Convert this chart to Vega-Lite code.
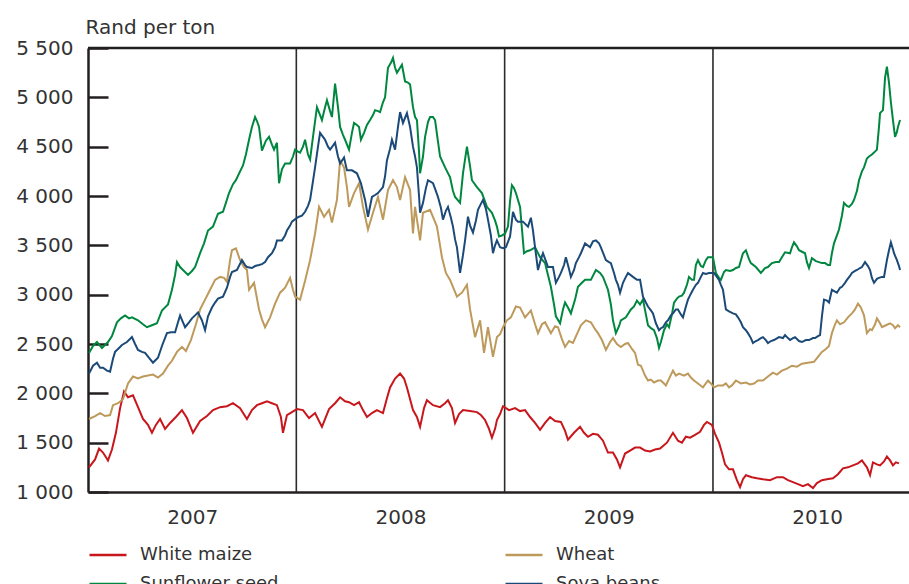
{
  "$schema": "https://vega.github.io/schema/vega-lite/v6.json",
  "width": 821,
  "height": 444,
  "autosize": {"type": "none"},
  "padding": {"left": 88, "top": 48, "right": 0, "bottom": 92},
  "background": "white",
  "config": {
    "view": {"stroke": null},
    "font": "DejaVu Sans",
    "legend": {
      "orient": "none", "legendX": 0, "legendY": 487, "columns": 2, "columnPadding": 221, "rowPadding": -1,
      "symbolType": "stroke", "symbolSize": 1369, "symbolStrokeWidth": 2.5,
      "labelFontSize": 18, "labelFont": "DejaVu Sans", "labelColor": "#333333", "labelOffset": 12, "labelLimit": 300
    }
  },
  "datasets": {
    "maize": [
      {"year":2007.005,"price":1250},{"year":2007.034,"price":1330},{"year":2007.053,"price":1440},{"year":2007.072,"price":1400},{"year":2007.096,"price":1320},{"year":2007.115,"price":1430},{"year":2007.134,"price":1600},{"year":2007.154,"price":1850},{"year":2007.173,"price":2020},{"year":2007.192,"price":1960},{"year":2007.216,"price":1980},{"year":2007.240,"price":1860},{"year":2007.264,"price":1740},{"year":2007.288,"price":1680},{"year":2007.307,"price":1600},{"year":2007.326,"price":1680},{"year":2007.346,"price":1740},{"year":2007.370,"price":1640},{"year":2007.394,"price":1700},{"year":2007.422,"price":1760},{"year":2007.451,"price":1830},{"year":2007.475,"price":1750},{"year":2007.504,"price":1600},{"year":2007.538,"price":1720},{"year":2007.571,"price":1770},{"year":2007.600,"price":1830},{"year":2007.634,"price":1860},{"year":2007.667,"price":1870},{"year":2007.696,"price":1900},{"year":2007.730,"price":1850},{"year":2007.763,"price":1740},{"year":2007.787,"price":1830},{"year":2007.811,"price":1880},{"year":2007.835,"price":1900},{"year":2007.859,"price":1920},{"year":2007.883,"price":1900},{"year":2007.907,"price":1880},{"year":2007.926,"price":1760},{"year":2007.936,"price":1600},{"year":2007.955,"price":1780},{"year":2007.979,"price":1810},{"year":2008.003,"price":1840},{"year":2008.032,"price":1830},{"year":2008.061,"price":1750},{"year":2008.090,"price":1800},{"year":2008.123,"price":1660},{"year":2008.157,"price":1840},{"year":2008.186,"price":1900},{"year":2008.210,"price":1960},{"year":2008.234,"price":1920},{"year":2008.253,"price":1910},{"year":2008.277,"price":1880},{"year":2008.301,"price":1910},{"year":2008.320,"price":1830},{"year":2008.339,"price":1760},{"year":2008.363,"price":1800},{"year":2008.387,"price":1830},{"year":2008.416,"price":1800},{"year":2008.435,"price":1950},{"year":2008.450,"price":2060},{"year":2008.474,"price":2150},{"year":2008.498,"price":2200},{"year":2008.517,"price":2150},{"year":2008.531,"price":2060},{"year":2008.560,"price":1830},{"year":2008.579,"price":1760},{"year":2008.594,"price":1660},{"year":2008.613,"price":1850},{"year":2008.627,"price":1930},{"year":2008.656,"price":1880},{"year":2008.690,"price":1860},{"year":2008.714,"price":1900},{"year":2008.728,"price":1930},{"year":2008.747,"price":1850},{"year":2008.762,"price":1700},{"year":2008.781,"price":1790},{"year":2008.800,"price":1830},{"year":2008.834,"price":1820},{"year":2008.867,"price":1810},{"year":2008.886,"price":1780},{"year":2008.906,"price":1730},{"year":2008.925,"price":1640},{"year":2008.939,"price":1550},{"year":2008.954,"price":1640},{"year":2008.963,"price":1730},{"year":2008.978,"price":1790},{"year":2008.992,"price":1870},{"year":2009.021,"price":1830},{"year":2009.050,"price":1850},{"year":2009.074,"price":1820},{"year":2009.098,"price":1830},{"year":2009.122,"price":1760},{"year":2009.146,"price":1700},{"year":2009.170,"price":1630},{"year":2009.194,"price":1700},{"year":2009.218,"price":1760},{"year":2009.242,"price":1720},{"year":2009.270,"price":1710},{"year":2009.290,"price":1620},{"year":2009.304,"price":1530},{"year":2009.333,"price":1600},{"year":2009.362,"price":1660},{"year":2009.381,"price":1600},{"year":2009.400,"price":1560},{"year":2009.424,"price":1590},{"year":2009.448,"price":1580},{"year":2009.472,"price":1520},{"year":2009.496,"price":1400},{"year":2009.520,"price":1400},{"year":2009.539,"price":1330},{"year":2009.554,"price":1250},{"year":2009.578,"price":1390},{"year":2009.602,"price":1420},{"year":2009.626,"price":1450},{"year":2009.650,"price":1450},{"year":2009.674,"price":1420},{"year":2009.698,"price":1410},{"year":2009.722,"price":1430},{"year":2009.746,"price":1440},{"year":2009.779,"price":1500},{"year":2009.808,"price":1600},{"year":2009.832,"price":1520},{"year":2009.851,"price":1500},{"year":2009.870,"price":1560},{"year":2009.890,"price":1550},{"year":2009.914,"price":1580},{"year":2009.938,"price":1610},{"year":2009.957,"price":1680},{"year":2009.971,"price":1710},{"year":2009.995,"price":1680},{"year":2010.010,"price":1590},{"year":2010.029,"price":1500},{"year":2010.043,"price":1400},{"year":2010.058,"price":1280},{"year":2010.077,"price":1230},{"year":2010.096,"price":1230},{"year":2010.115,"price":1120},{"year":2010.130,"price":1050},{"year":2010.144,"price":1130},{"year":2010.158,"price":1170},{"year":2010.187,"price":1150},{"year":2010.211,"price":1140},{"year":2010.240,"price":1130},{"year":2010.274,"price":1120},{"year":2010.307,"price":1150},{"year":2010.336,"price":1150},{"year":2010.360,"price":1120},{"year":2010.384,"price":1100},{"year":2010.408,"price":1080},{"year":2010.432,"price":1060},{"year":2010.456,"price":1080},{"year":2010.480,"price":1040},{"year":2010.499,"price":1090},{"year":2010.523,"price":1120},{"year":2010.547,"price":1130},{"year":2010.576,"price":1140},{"year":2010.600,"price":1180},{"year":2010.624,"price":1240},{"year":2010.648,"price":1250},{"year":2010.672,"price":1270},{"year":2010.696,"price":1290},{"year":2010.715,"price":1320},{"year":2010.739,"price":1250},{"year":2010.754,"price":1170},{"year":2010.768,"price":1300},{"year":2010.787,"price":1280},{"year":2010.802,"price":1270},{"year":2010.821,"price":1310},{"year":2010.835,"price":1360},{"year":2010.850,"price":1320},{"year":2010.864,"price":1270},{"year":2010.878,"price":1300},{"year":2010.893,"price":1290}
    ],
    "wheat": [
      {"year":2007.005,"price":1740},{"year":2007.034,"price":1770},{"year":2007.058,"price":1800},{"year":2007.082,"price":1770},{"year":2007.106,"price":1780},{"year":2007.120,"price":1880},{"year":2007.144,"price":1900},{"year":2007.168,"price":1940},{"year":2007.192,"price":2100},{"year":2007.216,"price":2170},{"year":2007.240,"price":2150},{"year":2007.264,"price":2170},{"year":2007.288,"price":2180},{"year":2007.312,"price":2190},{"year":2007.336,"price":2160},{"year":2007.360,"price":2200},{"year":2007.384,"price":2280},{"year":2007.403,"price":2330},{"year":2007.427,"price":2420},{"year":2007.451,"price":2470},{"year":2007.470,"price":2430},{"year":2007.494,"price":2540},{"year":2007.518,"price":2700},{"year":2007.538,"price":2850},{"year":2007.562,"price":2950},{"year":2007.586,"price":3050},{"year":2007.610,"price":3150},{"year":2007.634,"price":3180},{"year":2007.653,"price":3170},{"year":2007.667,"price":3130},{"year":2007.682,"price":3350},{"year":2007.691,"price":3450},{"year":2007.710,"price":3470},{"year":2007.730,"price":3350},{"year":2007.749,"price":3280},{"year":2007.763,"price":3250},{"year":2007.773,"price":3050},{"year":2007.797,"price":3120},{"year":2007.821,"price":2850},{"year":2007.835,"price":2750},{"year":2007.850,"price":2670},{"year":2007.874,"price":2770},{"year":2007.898,"price":2910},{"year":2007.922,"price":3020},{"year":2007.946,"price":3070},{"year":2007.970,"price":3170},{"year":2007.984,"price":3050},{"year":2007.994,"price":2980},{"year":2008.018,"price":2950},{"year":2008.042,"price":3140},{"year":2008.066,"price":3350},{"year":2008.090,"price":3620},{"year":2008.109,"price":3890},{"year":2008.133,"price":3790},{"year":2008.157,"price":3860},{"year":2008.171,"price":3730},{"year":2008.195,"price":3960},{"year":2008.210,"price":4360},{"year":2008.229,"price":4290},{"year":2008.243,"price":4090},{"year":2008.253,"price":3890},{"year":2008.277,"price":4030},{"year":2008.301,"price":4130},{"year":2008.320,"price":3890},{"year":2008.344,"price":3660},{"year":2008.368,"price":3830},{"year":2008.392,"price":3990},{"year":2008.416,"price":3760},{"year":2008.440,"price":4060},{"year":2008.464,"price":4160},{"year":2008.483,"price":4090},{"year":2008.498,"price":3960},{"year":2008.522,"price":4190},{"year":2008.546,"price":4060},{"year":2008.560,"price":3620},{"year":2008.570,"price":3890},{"year":2008.594,"price":3550},{"year":2008.608,"price":3830},{"year":2008.642,"price":3860},{"year":2008.675,"price":3690},{"year":2008.699,"price":3380},{"year":2008.718,"price":3220},{"year":2008.738,"price":3150},{"year":2008.771,"price":2980},{"year":2008.795,"price":3020},{"year":2008.819,"price":3100},{"year":2008.834,"price":2850},{"year":2008.858,"price":2570},{"year":2008.882,"price":2740},{"year":2008.901,"price":2410},{"year":2008.920,"price":2670},{"year":2008.944,"price":2370},{"year":2008.963,"price":2570},{"year":2008.978,"price":2600},{"year":2008.992,"price":2670},{"year":2009.011,"price":2740},{"year":2009.030,"price":2770},{"year":2009.054,"price":2880},{"year":2009.074,"price":2870},{"year":2009.098,"price":2770},{"year":2009.126,"price":2840},{"year":2009.146,"price":2700},{"year":2009.160,"price":2610},{"year":2009.179,"price":2700},{"year":2009.194,"price":2720},{"year":2009.222,"price":2610},{"year":2009.242,"price":2680},{"year":2009.256,"price":2670},{"year":2009.275,"price":2550},{"year":2009.290,"price":2470},{"year":2009.309,"price":2530},{"year":2009.328,"price":2510},{"year":2009.347,"price":2600},{"year":2009.366,"price":2690},{"year":2009.390,"price":2740},{"year":2009.414,"price":2720},{"year":2009.434,"price":2650},{"year":2009.448,"price":2610},{"year":2009.467,"price":2540},{"year":2009.486,"price":2440},{"year":2009.506,"price":2520},{"year":2009.520,"price":2560},{"year":2009.539,"price":2500},{"year":2009.558,"price":2470},{"year":2009.578,"price":2500},{"year":2009.592,"price":2510},{"year":2009.611,"price":2450},{"year":2009.626,"price":2410},{"year":2009.640,"price":2290},{"year":2009.654,"price":2280},{"year":2009.674,"price":2180},{"year":2009.688,"price":2130},{"year":2009.702,"price":2140},{"year":2009.717,"price":2110},{"year":2009.736,"price":2130},{"year":2009.750,"price":2130},{"year":2009.765,"price":2100},{"year":2009.774,"price":2080},{"year":2009.794,"price":2170},{"year":2009.808,"price":2230},{"year":2009.822,"price":2180},{"year":2009.837,"price":2200},{"year":2009.861,"price":2180},{"year":2009.880,"price":2200},{"year":2009.894,"price":2160},{"year":2009.909,"price":2130},{"year":2009.928,"price":2100},{"year":2009.952,"price":2060},{"year":2009.976,"price":2130},{"year":2009.990,"price":2100},{"year":2010.005,"price":2060},{"year":2010.024,"price":2080},{"year":2010.048,"price":2080},{"year":2010.062,"price":2100},{"year":2010.077,"price":2060},{"year":2010.091,"price":2080},{"year":2010.110,"price":2130},{"year":2010.134,"price":2100},{"year":2010.158,"price":2110},{"year":2010.178,"price":2090},{"year":2010.197,"price":2100},{"year":2010.216,"price":2130},{"year":2010.240,"price":2130},{"year":2010.264,"price":2170},{"year":2010.288,"price":2210},{"year":2010.307,"price":2190},{"year":2010.331,"price":2230},{"year":2010.355,"price":2250},{"year":2010.379,"price":2280},{"year":2010.403,"price":2270},{"year":2010.427,"price":2300},{"year":2010.456,"price":2310},{"year":2010.485,"price":2320},{"year":2010.504,"price":2370},{"year":2010.523,"price":2420},{"year":2010.542,"price":2450},{"year":2010.557,"price":2480},{"year":2010.571,"price":2610},{"year":2010.586,"price":2700},{"year":2010.595,"price":2740},{"year":2010.610,"price":2700},{"year":2010.629,"price":2720},{"year":2010.648,"price":2770},{"year":2010.667,"price":2810},{"year":2010.682,"price":2850},{"year":2010.696,"price":2910},{"year":2010.710,"price":2870},{"year":2010.725,"price":2790},{"year":2010.739,"price":2610},{"year":2010.754,"price":2650},{"year":2010.763,"price":2640},{"year":2010.778,"price":2700},{"year":2010.787,"price":2760},{"year":2010.802,"price":2710},{"year":2010.811,"price":2670},{"year":2010.830,"price":2690},{"year":2010.850,"price":2710},{"year":2010.864,"price":2690},{"year":2010.874,"price":2660},{"year":2010.888,"price":2690},{"year":2010.898,"price":2670}
    ],
    "sunflower": [
      {"year":2007.005,"price":2410},{"year":2007.024,"price":2480},{"year":2007.043,"price":2520},{"year":2007.067,"price":2460},{"year":2007.096,"price":2520},{"year":2007.115,"price":2580},{"year":2007.139,"price":2720},{"year":2007.158,"price":2760},{"year":2007.178,"price":2790},{"year":2007.197,"price":2760},{"year":2007.211,"price":2770},{"year":2007.240,"price":2740},{"year":2007.264,"price":2700},{"year":2007.283,"price":2670},{"year":2007.307,"price":2690},{"year":2007.331,"price":2710},{"year":2007.355,"price":2840},{"year":2007.384,"price":2900},{"year":2007.403,"price":3050},{"year":2007.418,"price":3200},{"year":2007.427,"price":3330},{"year":2007.442,"price":3280},{"year":2007.456,"price":3250},{"year":2007.480,"price":3200},{"year":2007.499,"price":3240},{"year":2007.514,"price":3280},{"year":2007.538,"price":3420},{"year":2007.557,"price":3520},{"year":2007.576,"price":3650},{"year":2007.600,"price":3690},{"year":2007.624,"price":3820},{"year":2007.648,"price":3840},{"year":2007.662,"price":3930},{"year":2007.677,"price":4030},{"year":2007.696,"price":4120},{"year":2007.710,"price":4160},{"year":2007.730,"price":4250},{"year":2007.744,"price":4310},{"year":2007.758,"price":4420},{"year":2007.773,"price":4570},{"year":2007.787,"price":4700},{"year":2007.802,"price":4800},{"year":2007.811,"price":4760},{"year":2007.821,"price":4700},{"year":2007.835,"price":4460},{"year":2007.854,"price":4560},{"year":2007.869,"price":4600},{"year":2007.883,"price":4520},{"year":2007.893,"price":4470},{"year":2007.907,"price":4540},{"year":2007.917,"price":4130},{"year":2007.931,"price":4270},{"year":2007.946,"price":4330},{"year":2007.970,"price":4330},{"year":2007.984,"price":4400},{"year":2007.994,"price":4470},{"year":2008.008,"price":4450},{"year":2008.018,"price":4440},{"year":2008.032,"price":4500},{"year":2008.042,"price":4570},{"year":2008.056,"price":4420},{"year":2008.066,"price":4370},{"year":2008.080,"price":4600},{"year":2008.099,"price":4900},{"year":2008.114,"price":4820},{"year":2008.123,"price":4770},{"year":2008.138,"price":4900},{"year":2008.147,"price":4970},{"year":2008.162,"price":4860},{"year":2008.171,"price":4800},{"year":2008.186,"price":5140},{"year":2008.200,"price":4900},{"year":2008.210,"price":4700},{"year":2008.224,"price":4620},{"year":2008.234,"price":4570},{"year":2008.253,"price":4470},{"year":2008.267,"price":4640},{"year":2008.277,"price":4740},{"year":2008.291,"price":4720},{"year":2008.301,"price":4700},{"year":2008.310,"price":4570},{"year":2008.325,"price":4640},{"year":2008.339,"price":4720},{"year":2008.354,"price":4770},{"year":2008.368,"price":4820},{"year":2008.378,"price":4870},{"year":2008.392,"price":4860},{"year":2008.402,"price":4850},{"year":2008.416,"price":4950},{"year":2008.426,"price":5000},{"year":2008.440,"price":5300},{"year":2008.454,"price":5350},{"year":2008.464,"price":5400},{"year":2008.474,"price":5300},{"year":2008.483,"price":5250},{"year":2008.498,"price":5300},{"year":2008.507,"price":5330},{"year":2008.522,"price":5160},{"year":2008.536,"price":5150},{"year":2008.546,"price":5130},{"year":2008.560,"price":4900},{"year":2008.570,"price":4800},{"year":2008.579,"price":4770},{"year":2008.589,"price":4450},{"year":2008.594,"price":4230},{"year":2008.608,"price":4400},{"year":2008.618,"price":4600},{"year":2008.632,"price":4750},{"year":2008.642,"price":4800},{"year":2008.656,"price":4800},{"year":2008.666,"price":4770},{"year":2008.680,"price":4550},{"year":2008.690,"price":4400},{"year":2008.714,"price":4290},{"year":2008.738,"price":4190},{"year":2008.752,"price":4050},{"year":2008.762,"price":3990},{"year":2008.786,"price":3930},{"year":2008.800,"price":4230},{"year":2008.819,"price":4500},{"year":2008.834,"price":4300},{"year":2008.843,"price":4160},{"year":2008.867,"price":4090},{"year":2008.891,"price":4030},{"year":2008.915,"price":3890},{"year":2008.939,"price":3830},{"year":2008.954,"price":3750},{"year":2008.963,"price":3690},{"year":2008.973,"price":3590},{"year":2008.987,"price":3600},{"year":2009.002,"price":3620},{"year":2009.016,"price":3690},{"year":2009.026,"price":3950},{"year":2009.035,"price":4110},{"year":2009.045,"price":4080},{"year":2009.054,"price":4030},{"year":2009.074,"price":3890},{"year":2009.093,"price":3420},{"year":2009.107,"price":3440},{"year":2009.122,"price":3450},{"year":2009.146,"price":3480},{"year":2009.170,"price":3380},{"year":2009.194,"price":3320},{"year":2009.208,"price":3200},{"year":2009.222,"price":3080},{"year":2009.237,"price":2900},{"year":2009.246,"price":2780},{"year":2009.266,"price":2710},{"year":2009.280,"price":2850},{"year":2009.290,"price":2920},{"year":2009.304,"price":2870},{"year":2009.318,"price":2810},{"year":2009.338,"price":2950},{"year":2009.352,"price":3080},{"year":2009.371,"price":3120},{"year":2009.386,"price":3150},{"year":2009.414,"price":3150},{"year":2009.438,"price":3250},{"year":2009.458,"price":3220},{"year":2009.472,"price":3180},{"year":2009.496,"price":3050},{"year":2009.510,"price":2900},{"year":2009.520,"price":2740},{"year":2009.534,"price":2610},{"year":2009.549,"price":2680},{"year":2009.558,"price":2740},{"year":2009.582,"price":2770},{"year":2009.606,"price":2850},{"year":2009.621,"price":2880},{"year":2009.635,"price":2940},{"year":2009.650,"price":2900},{"year":2009.664,"price":2950},{"year":2009.678,"price":2800},{"year":2009.688,"price":2690},{"year":2009.702,"price":2660},{"year":2009.717,"price":2640},{"year":2009.731,"price":2560},{"year":2009.741,"price":2460},{"year":2009.750,"price":2520},{"year":2009.765,"price":2640},{"year":2009.779,"price":2700},{"year":2009.789,"price":2670},{"year":2009.803,"price":2800},{"year":2009.813,"price":2920},{"year":2009.827,"price":2960},{"year":2009.837,"price":2980},{"year":2009.851,"price":2990},{"year":2009.861,"price":3020},{"year":2009.875,"price":3100},{"year":2009.885,"price":3180},{"year":2009.899,"price":3150},{"year":2009.909,"price":3150},{"year":2009.918,"price":3300},{"year":2009.928,"price":3350},{"year":2009.942,"price":3290},{"year":2009.952,"price":3280},{"year":2009.966,"price":3350},{"year":2009.976,"price":3380},{"year":2009.990,"price":3380},{"year":2010.000,"price":3380},{"year":2010.014,"price":3220},{"year":2010.029,"price":3170},{"year":2010.038,"price":3150},{"year":2010.053,"price":3230},{"year":2010.062,"price":3250},{"year":2010.082,"price":3240},{"year":2010.096,"price":3250},{"year":2010.110,"price":3270},{"year":2010.125,"price":3280},{"year":2010.144,"price":3420},{"year":2010.158,"price":3450},{"year":2010.173,"price":3360},{"year":2010.182,"price":3320},{"year":2010.206,"price":3280},{"year":2010.230,"price":3220},{"year":2010.250,"price":3270},{"year":2010.264,"price":3280},{"year":2010.283,"price":3320},{"year":2010.302,"price":3330},{"year":2010.317,"price":3330},{"year":2010.331,"price":3380},{"year":2010.346,"price":3430},{"year":2010.370,"price":3420},{"year":2010.379,"price":3480},{"year":2010.389,"price":3530},{"year":2010.403,"price":3490},{"year":2010.413,"price":3450},{"year":2010.432,"price":3430},{"year":2010.442,"price":3420},{"year":2010.451,"price":3330},{"year":2010.461,"price":3270},{"year":2010.475,"price":3370},{"year":2010.494,"price":3340},{"year":2010.509,"price":3330},{"year":2010.523,"price":3320},{"year":2010.538,"price":3320},{"year":2010.552,"price":3300},{"year":2010.562,"price":3300},{"year":2010.571,"price":3420},{"year":2010.581,"price":3520},{"year":2010.595,"price":3600},{"year":2010.605,"price":3660},{"year":2010.619,"price":3800},{"year":2010.629,"price":3930},{"year":2010.643,"price":3900},{"year":2010.653,"price":3890},{"year":2010.667,"price":3920},{"year":2010.677,"price":3960},{"year":2010.691,"price":4050},{"year":2010.701,"price":4160},{"year":2010.715,"price":4250},{"year":2010.725,"price":4290},{"year":2010.739,"price":4380},{"year":2010.749,"price":4400},{"year":2010.763,"price":4420},{"year":2010.773,"price":4440},{"year":2010.787,"price":4470},{"year":2010.797,"price":4700},{"year":2010.802,"price":4840},{"year":2010.816,"price":4870},{"year":2010.826,"price":5200},{"year":2010.835,"price":5310},{"year":2010.845,"price":5150},{"year":2010.854,"price":4950},{"year":2010.864,"price":4770},{"year":2010.874,"price":4600},{"year":2010.883,"price":4650},{"year":2010.888,"price":4700},{"year":2010.898,"price":4770}
    ],
    "soya": [
      {"year":2007.005,"price":2200},{"year":2007.024,"price":2280},{"year":2007.043,"price":2310},{"year":2007.058,"price":2260},{"year":2007.072,"price":2260},{"year":2007.091,"price":2230},{"year":2007.106,"price":2220},{"year":2007.120,"price":2350},{"year":2007.130,"price":2420},{"year":2007.149,"price":2460},{"year":2007.163,"price":2490},{"year":2007.187,"price":2520},{"year":2007.211,"price":2570},{"year":2007.226,"price":2500},{"year":2007.240,"price":2440},{"year":2007.259,"price":2420},{"year":2007.274,"price":2410},{"year":2007.293,"price":2360},{"year":2007.312,"price":2310},{"year":2007.326,"price":2340},{"year":2007.336,"price":2360},{"year":2007.355,"price":2480},{"year":2007.379,"price":2610},{"year":2007.398,"price":2620},{"year":2007.418,"price":2620},{"year":2007.432,"price":2720},{"year":2007.442,"price":2790},{"year":2007.456,"price":2720},{"year":2007.466,"price":2670},{"year":2007.485,"price":2720},{"year":2007.499,"price":2760},{"year":2007.514,"price":2790},{"year":2007.528,"price":2820},{"year":2007.547,"price":2740},{"year":2007.562,"price":2640},{"year":2007.576,"price":2780},{"year":2007.595,"price":2870},{"year":2007.610,"price":2920},{"year":2007.624,"price":2960},{"year":2007.648,"price":2980},{"year":2007.667,"price":3070},{"year":2007.682,"price":3180},{"year":2007.691,"price":3230},{"year":2007.715,"price":3250},{"year":2007.739,"price":3350},{"year":2007.754,"price":3300},{"year":2007.763,"price":3280},{"year":2007.787,"price":3270},{"year":2007.802,"price":3290},{"year":2007.821,"price":3300},{"year":2007.835,"price":3310},{"year":2007.850,"price":3330},{"year":2007.864,"price":3380},{"year":2007.883,"price":3420},{"year":2007.898,"price":3480},{"year":2007.907,"price":3550},{"year":2007.931,"price":3550},{"year":2007.946,"price":3600},{"year":2007.955,"price":3650},{"year":2007.970,"price":3700},{"year":2007.979,"price":3740},{"year":2007.998,"price":3770},{"year":2008.013,"price":3790},{"year":2008.027,"price":3800},{"year":2008.042,"price":3840},{"year":2008.056,"price":3900},{"year":2008.066,"price":3960},{"year":2008.080,"price":4150},{"year":2008.090,"price":4290},{"year":2008.104,"price":4500},{"year":2008.114,"price":4640},{"year":2008.128,"price":4600},{"year":2008.138,"price":4570},{"year":2008.152,"price":4500},{"year":2008.162,"price":4470},{"year":2008.176,"price":4510},{"year":2008.186,"price":4540},{"year":2008.200,"price":4400},{"year":2008.210,"price":4330},{"year":2008.229,"price":4390},{"year":2008.243,"price":4260},{"year":2008.267,"price":4260},{"year":2008.291,"price":4230},{"year":2008.310,"price":4130},{"year":2008.330,"price":3960},{"year":2008.344,"price":3790},{"year":2008.363,"price":3990},{"year":2008.378,"price":4010},{"year":2008.392,"price":4030},{"year":2008.416,"price":4090},{"year":2008.426,"price":4200},{"year":2008.435,"price":4360},{"year":2008.450,"price":4480},{"year":2008.459,"price":4570},{"year":2008.474,"price":4470},{"year":2008.488,"price":4700},{"year":2008.498,"price":4850},{"year":2008.512,"price":4740},{"year":2008.531,"price":4840},{"year":2008.546,"price":4700},{"year":2008.560,"price":4500},{"year":2008.570,"price":4400},{"year":2008.579,"price":4290},{"year":2008.589,"price":4000},{"year":2008.594,"price":3830},{"year":2008.608,"price":3930},{"year":2008.622,"price":4080},{"year":2008.632,"price":4160},{"year":2008.656,"price":4130},{"year":2008.670,"price":4050},{"year":2008.680,"price":3990},{"year":2008.694,"price":3880},{"year":2008.704,"price":3760},{"year":2008.718,"price":3850},{"year":2008.728,"price":3890},{"year":2008.742,"price":3780},{"year":2008.752,"price":3690},{"year":2008.762,"price":3560},{"year":2008.771,"price":3480},{"year":2008.786,"price":3220},{"year":2008.800,"price":3400},{"year":2008.810,"price":3550},{"year":2008.824,"price":3790},{"year":2008.834,"price":3700},{"year":2008.848,"price":3630},{"year":2008.862,"price":3750},{"year":2008.872,"price":3860},{"year":2008.886,"price":3920},{"year":2008.896,"price":3960},{"year":2008.910,"price":3870},{"year":2008.920,"price":3760},{"year":2008.934,"price":3600},{"year":2008.944,"price":3420},{"year":2008.954,"price":3500},{"year":2008.963,"price":3550},{"year":2008.978,"price":3480},{"year":2008.992,"price":3470},{"year":2009.006,"price":3480},{"year":2009.026,"price":3590},{"year":2009.040,"price":3840},{"year":2009.054,"price":3760},{"year":2009.064,"price":3740},{"year":2009.088,"price":3740},{"year":2009.112,"price":3690},{"year":2009.126,"price":3780},{"year":2009.136,"price":3650},{"year":2009.146,"price":3480},{"year":2009.160,"price":3250},{"year":2009.174,"price":3360},{"year":2009.184,"price":3420},{"year":2009.198,"price":3340},{"year":2009.208,"price":3280},{"year":2009.232,"price":3280},{"year":2009.246,"price":3120},{"year":2009.261,"price":3180},{"year":2009.270,"price":3220},{"year":2009.285,"price":3300},{"year":2009.294,"price":3380},{"year":2009.309,"price":3260},{"year":2009.318,"price":3180},{"year":2009.333,"price":3250},{"year":2009.342,"price":3320},{"year":2009.357,"price":3380},{"year":2009.366,"price":3420},{"year":2009.386,"price":3520},{"year":2009.410,"price":3480},{"year":2009.424,"price":3540},{"year":2009.438,"price":3550},{"year":2009.453,"price":3520},{"year":2009.462,"price":3480},{"year":2009.486,"price":3350},{"year":2009.501,"price":3330},{"year":2009.510,"price":3320},{"year":2009.525,"price":3220},{"year":2009.534,"price":3150},{"year":2009.544,"price":3100},{"year":2009.554,"price":3020},{"year":2009.568,"price":3120},{"year":2009.582,"price":3180},{"year":2009.592,"price":3220},{"year":2009.616,"price":3180},{"year":2009.635,"price":3150},{"year":2009.650,"price":3150},{"year":2009.664,"price":2980},{"year":2009.678,"price":2920},{"year":2009.688,"price":2880},{"year":2009.702,"price":2840},{"year":2009.712,"price":2810},{"year":2009.726,"price":2710},{"year":2009.741,"price":2640},{"year":2009.750,"price":2660},{"year":2009.760,"price":2670},{"year":2009.774,"price":2720},{"year":2009.784,"price":2740},{"year":2009.798,"price":2790},{"year":2009.808,"price":2810},{"year":2009.822,"price":2850},{"year":2009.832,"price":2850},{"year":2009.846,"price":2800},{"year":2009.856,"price":2770},{"year":2009.870,"price":2880},{"year":2009.880,"price":2950},{"year":2009.894,"price":3010},{"year":2009.904,"price":3050},{"year":2009.918,"price":3100},{"year":2009.928,"price":3120},{"year":2009.942,"price":3180},{"year":2009.952,"price":3220},{"year":2009.966,"price":3210},{"year":2009.981,"price":3220},{"year":2010.005,"price":3220},{"year":2010.029,"price":3150},{"year":2010.038,"price":3100},{"year":2010.048,"price":3050},{"year":2010.062,"price":2850},{"year":2010.077,"price":2830},{"year":2010.096,"price":2810},{"year":2010.110,"price":2800},{"year":2010.120,"price":2770},{"year":2010.134,"price":2720},{"year":2010.144,"price":2670},{"year":2010.158,"price":2640},{"year":2010.168,"price":2610},{"year":2010.182,"price":2560},{"year":2010.192,"price":2510},{"year":2010.206,"price":2530},{"year":2010.216,"price":2540},{"year":2010.230,"price":2560},{"year":2010.240,"price":2570},{"year":2010.254,"price":2540},{"year":2010.264,"price":2510},{"year":2010.278,"price":2530},{"year":2010.293,"price":2540},{"year":2010.317,"price":2570},{"year":2010.336,"price":2560},{"year":2010.346,"price":2590},{"year":2010.360,"price":2560},{"year":2010.370,"price":2540},{"year":2010.384,"price":2560},{"year":2010.394,"price":2570},{"year":2010.413,"price":2530},{"year":2010.427,"price":2520},{"year":2010.446,"price":2540},{"year":2010.461,"price":2540},{"year":2010.480,"price":2560},{"year":2010.490,"price":2560},{"year":2010.504,"price":2580},{"year":2010.514,"price":2590},{"year":2010.523,"price":2780},{"year":2010.533,"price":2950},{"year":2010.547,"price":2940},{"year":2010.557,"price":2920},{"year":2010.571,"price":3050},{"year":2010.586,"price":3030},{"year":2010.595,"price":3020},{"year":2010.610,"price":3070},{"year":2010.619,"price":3080},{"year":2010.634,"price":3120},{"year":2010.643,"price":3150},{"year":2010.658,"price":3190},{"year":2010.667,"price":3220},{"year":2010.682,"price":3240},{"year":2010.691,"price":3250},{"year":2010.706,"price":3270},{"year":2010.715,"price":3280},{"year":2010.730,"price":3330},{"year":2010.744,"price":3290},{"year":2010.754,"price":3250},{"year":2010.763,"price":3170},{"year":2010.773,"price":3120},{"year":2010.787,"price":3160},{"year":2010.797,"price":3170},{"year":2010.811,"price":3180},{"year":2010.821,"price":3180},{"year":2010.835,"price":3350},{"year":2010.845,"price":3450},{"year":2010.854,"price":3530},{"year":2010.864,"price":3460},{"year":2010.869,"price":3420},{"year":2010.883,"price":3350},{"year":2010.893,"price":3290},{"year":2010.898,"price":3250}
    ]
  },
  "layer": [
    {
      "data": {"values": [{"year": 2008}, {"year": 2009}, {"year": 2010}]},
      "mark": {"type": "rule", "color": "#2b2b2b", "strokeWidth": 1.6},
      "encoding": {
        "x": {
          "field": "year", "type": "quantitative",
          "scale": {"domain": [2007, 2010.941], "nice": false, "zero": false},
          "axis": {
            "title": null, "values": [2007.5, 2008.5, 2009.5, 2010.5], "labelExpr": "'' + floor(datum.value)",
            "ticks": false, "grid": false, "domain": true, "domainColor": "#231f20", "domainWidth": 2.5,
            "labelFont": "DejaVu Sans", "labelFontSize": 20, "labelColor": "#333333", "labelPadding": 15,
            "labelFlush": false, "labelOverlap": false
          }
        }
      }
    },
    {
      "data": {"values": [{"price": 5500}]},
      "mark": {"type": "rule", "color": "#231f20", "strokeWidth": 2.5},
      "encoding": {
        "y": {
          "field": "price", "type": "quantitative",
          "scale": {"domain": [1000, 5500], "nice": false, "zero": false},
          "axis": {
            "title": "Rand per ton", "titleAngle": 0, "titleAlign": "left", "titleBaseline": "alphabetic",
            "titleX": -3, "titleY": -15, "titleFont": "DejaVu Sans", "titleFontSize": 20, "titleFontWeight": "normal", "titleColor": "#333333",
            "values": [1000, 1500, 2000, 2500, 3000, 3500, 4000, 4500, 5000, 5500],
            "labelExpr": "replace(format(datum.value, ','), ',', ' ')",
            "tickSize": -20, "tickWidth": 2.5, "tickColor": "#231f20",
            "labelPadding": 35, "labelFont": "DejaVu Sans", "labelFontSize": 20, "labelColor": "#333333",
            "grid": false, "domain": true, "domainColor": "#231f20", "domainWidth": 2.5,
            "labelFlush": false, "labelOverlap": false
          }
        }
      }
    },
    {
      "data": {"name": "maize"},
      "mark": {"type": "line", "strokeWidth": 2},
      "encoding": {
        "x": {"field": "year", "type": "quantitative"},
        "y": {"field": "price", "type": "quantitative"},
        "color": {
          "datum": "White maize", "type": "nominal",
          "scale": {"domain": ["White maize", "Sunflower seed", "Wheat", "Soya beans"], "range": ["#C8161D", "#00873F", "#BD9A5C", "#1C4A78"]},
          "legend": {"title": null}
        }
      }
    },
    {
      "data": {"name": "wheat"},
      "mark": {"type": "line", "strokeWidth": 2},
      "encoding": {
        "x": {"field": "year", "type": "quantitative"},
        "y": {"field": "price", "type": "quantitative"},
        "color": {"datum": "Wheat", "type": "nominal"}
      }
    },
    {
      "data": {"name": "sunflower"},
      "mark": {"type": "line", "strokeWidth": 2},
      "encoding": {
        "x": {"field": "year", "type": "quantitative"},
        "y": {"field": "price", "type": "quantitative"},
        "color": {"datum": "Sunflower seed", "type": "nominal"}
      }
    },
    {
      "data": {"name": "soya"},
      "mark": {"type": "line", "strokeWidth": 2},
      "encoding": {
        "x": {"field": "year", "type": "quantitative"},
        "y": {"field": "price", "type": "quantitative"},
        "color": {"datum": "Soya beans", "type": "nominal"}
      }
    }
  ]
}
